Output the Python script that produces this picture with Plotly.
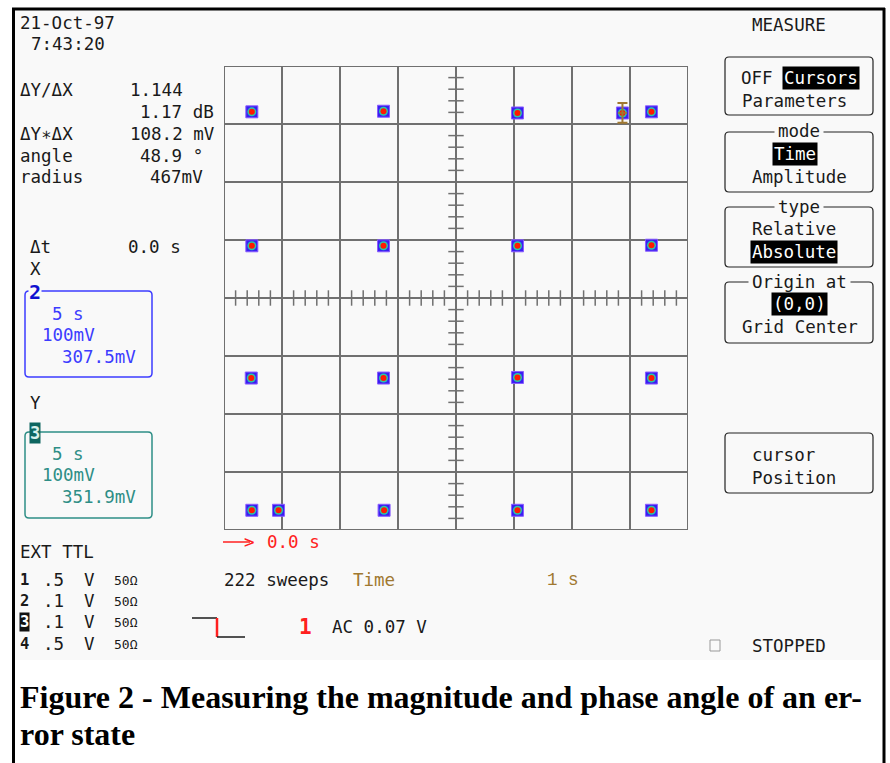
import plotly.graph_objects as go

W, H = 890, 763
MONO = "DejaVu Sans Mono"
SERIF = "Liberation Serif"
INK = "#1a1a1a"
GRID = "#707070"
SCREEN = "#f9f9f9"
BLUE = "#3c3cff"
TEAL = "#2e8e86"
BROWN = "#a07830"
RED = "#ff2020"

# ---------------- data ----------------
# dot positions: X = channel 2 (mV), Y = channel 3 (mV); 100 mV / division
dot_x_mV = [-352, -125, 106, 287, 337,
            -352, -125, 106, 337,
            -353, -125, 106, 337,
            -352, -306, -124, 106, 337]
dot_y_mV = [321, 322, 319, 319, 321,
            90, 90, 90, 91,
            -138, -138, -137, -138,
            -366, -366, -366, -366, -366]
cursor_x_mV = [287]
cursor_y_mV = [319]
cursor_half_height_mV = [17]

axis_range_mV = [-400, 400]
grid_step_mV = 100
minor_step_mV = 20

readout_labels = ["ΔY/ΔX", "", "ΔY∗ΔX", "angle", "radius"]
readout_values = ["1.144", "1.17 dB", "108.2 mV", "48.9 °", "467mV"]
ch2_lines = ["5 s", "100mV", "307.5mV"]
ch3_lines = ["5 s", "100mV", "351.9mV"]
channel_ids = ["1", "2", "3", "4"]
channel_volts = [".5", ".1", ".1", ".5"]
caption_lines = ["Figure 2 - Measuring the magnitude and phase angle of an er-",
                 "ror state"]


def px(x):
    return x / W


def py(y):
    return 1 - y / H


fig = go.Figure()

# center-axis minor ticks
minor = [k * minor_step_mV for k in range(-20, 21) if k % 5 != 0]
fig.add_trace(go.Scatter(x=minor, y=[0] * len(minor), mode="markers", hoverinfo="skip",
                         marker=dict(symbol="line-ns", size=11, line=dict(width=1.5, color=GRID))))
fig.add_trace(go.Scatter(x=[0] * len(minor), y=minor, mode="markers", hoverinfo="skip",
                         marker=dict(symbol="line-ew", size=11, line=dict(width=1.5, color=GRID))))

# persistence blobs
fig.add_trace(go.Scatter(x=dot_x_mV, y=dot_y_mV, mode="markers",
                         marker=dict(symbol="square", size=12, color="#3a1ef2",
                                     line=dict(width=1, color="#8a5cff"))))
fig.add_trace(go.Scatter(x=dot_x_mV, y=dot_y_mV, mode="markers",
                         marker=dict(symbol="circle", size=9, color="#28c8a8", line=dict(width=0))))
fig.add_trace(go.Scatter(x=dot_x_mV, y=dot_y_mV, mode="markers",
                         marker=dict(symbol="circle", size=6, color="#ff1a00", line=dict(width=0))))

# cursor
fig.add_trace(go.Scatter(x=cursor_x_mV, y=cursor_y_mV, mode="markers",
                         marker=dict(size=1, color="rgba(0,0,0,0)"),
                         error_y=dict(type="data", array=cursor_half_height_mV, color=BROWN,
                                      thickness=2, width=5),
                         error_x=dict(type="data", array=[8], arrayminus=[8], color=BROWN,
                                      thickness=1.5, width=0)))

shapes = []
# screen background
shapes.append(dict(type="rect", xref="paper", yref="paper", x0=px(15), x1=px(882),
                   y0=py(660), y1=py(10), fillcolor=SCREEN, line=dict(width=0), layer="below"))
# frame
for (x0, y0, x1, y1) in [(13.5, 8, 13.5, 763), (12, 9, 885, 9), (884, 8, 884, 763)]:
    shapes.append(dict(type="line", xref="paper", yref="paper", x0=px(x0), x1=px(x1),
                       y0=py(y0), y1=py(y1), line=dict(color="black", width=3)))
# grid border
shapes.append(dict(type="rect", xref="x", yref="y", x0=axis_range_mV[0], x1=axis_range_mV[1],
                   y0=axis_range_mV[0], y1=axis_range_mV[1], line=dict(color=GRID, width=2)))


def rrect(x0, y0, x1, y1, color, width=1.3, r=4):
    def P(x, y):
        return f"{px(x):.6f},{py(y):.6f}"
    path = (f"M {P(x0 + r, y0)} L {P(x1 - r, y0)} Q {P(x1, y0)} {P(x1, y0 + r)} "
            f"L {P(x1, y1 - r)} Q {P(x1, y1)} {P(x1 - r, y1)} L {P(x0 + r, y1)} "
            f"Q {P(x0, y1)} {P(x0, y1 - r)} L {P(x0, y0 + r)} Q {P(x0, y0)} {P(x0 + r, y0)} Z")
    shapes.append(dict(type="path", xref="paper", yref="paper", path=path,
                       line=dict(color=color, width=width)))


# channel boxes
rrect(25, 291, 152, 377, BLUE, 1.5)
rrect(25, 432, 152, 518, TEAL, 1.5)
# menu boxes
for (y0, y1) in [(57, 115), (132, 192), (207, 267), (282, 343), (433, 493)]:
    rrect(725, y0, 873, y1, "#222222", 1.2)

# trigger symbol
shapes.append(dict(type="line", xref="paper", yref="paper", x0=px(192), x1=px(217),
                   y0=py(618), y1=py(618), line=dict(color=INK, width=1.5)))
shapes.append(dict(type="line", xref="paper", yref="paper", x0=px(217), x1=px(217),
                   y0=py(618), y1=py(637), line=dict(color=RED, width=2.5)))
shapes.append(dict(type="line", xref="paper", yref="paper", x0=px(217), x1=px(245),
                   y0=py(637), y1=py(637), line=dict(color=INK, width=1.5)))
# delay arrow line
shapes.append(dict(type="line", xref="paper", yref="paper", x0=px(223), x1=px(250),
                   y0=py(542), y1=py(542), line=dict(color=RED, width=1.5)))
# small status square
shapes.append(dict(type="rect", xref="paper", yref="paper", x0=px(710), x1=px(720),
                   y0=py(651), y1=py(640), line=dict(color="#999999", width=1)))

anns = []


def T(x, y, s, color=INK, size=17.5, bold=False, family=MONO, xanchor="left", bg=None, pad=1):
    a = dict(x=px(x), y=py(y), xref="paper", yref="paper", text=(f"<b>{s}</b>" if bold else s),
             showarrow=False, xanchor=xanchor, yanchor="middle",
             font=dict(family=family, size=size, color=color), borderpad=pad)
    if bg:
        a["bgcolor"] = bg
    anns.append(a)


T(18, 23, "21-Oct-97")
T(29, 44, "7:43:20")
lab_y = [90, 112, 134, 156, 177]
val_x = [128, 138, 128, 138, 148]
for lab, val, yy in zip(readout_labels, readout_values, lab_y):
    pass
for lab, val, yy, vx in zip(readout_labels, readout_values, lab_y, val_x):
    if lab:
        T(18, yy, lab)
    T(vx, yy, val)
T(28, 247, "Δt")
T(126, 247, "0.0 s")
T(28, 269, "X")
T(28, 403, "Y")

for s, (x, y) in zip(ch2_lines, [(50, 314), (40, 335), (60, 357)]):
    T(x, y, s, color=BLUE)
for s, (x, y) in zip(ch3_lines, [(50, 454), (40, 475), (60, 497)]):
    T(x, y, s, color=TEAL)
T(28, 292, "2", color="#1010d0", size=20, bold=True, bg=SCREEN, pad=0)
T(29, 433, "3", color="#d8f0ec", size=17, bold=True, bg="#0e6660", pad=0)

# delay
T(242, 542, ">", color=RED)
T(265, 542, "0.0 s", color=RED)

# channel list
T(18, 552, "EXT TTL")
for cid, v, yy in zip(channel_ids, channel_volts, [580, 601, 622, 644]):
    if cid == "3":
        T(19, yy, cid, color="white", size=15.5, bold=True, bg="#111111", pad=0)
    else:
        T(18, yy, cid, size=15.5, bold=True)
    T(41, yy, v)
    T(82, yy, "V")
    T(112, yy, "50Ω", size=13)

T(222, 580, "222 sweeps")
T(351, 580, "Time", color=BROWN)
T(545, 580, "1 s", color=BROWN, family="Liberation Mono")
T(297, 627, "1", color=RED, size=21, bold=True)
T(330, 627, "AC 0.07 V")
T(750, 646, "STOPPED")

# menu
T(789, 25, "MEASURE", xanchor="center")
T(739, 78, "OFF")
T(782, 78, "Cursors", color="white", bg="#000000")
T(740, 101, "Parameters")
T(799, 131, "mode", xanchor="center", bg=SCREEN, pad=3)
T(795, 154, "Time", color="white", bg="#000000", xanchor="center")
T(750, 177, "Amplitude")
T(799, 207, "type", xanchor="center", bg=SCREEN, pad=3)
T(750, 229, "Relative")
T(750, 252, "Absolute", color="white", bg="#000000")
T(799, 282, "Origin at", xanchor="center", bg=SCREEN, pad=3)
T(799, 304, "(0,0)", color="white", bg="#000000", xanchor="center")
T(740, 327, "Grid Center")
T(750, 455, "cursor")
T(750, 478, "Position")

# caption
T(18, 697, caption_lines[0], color="#000000", size=32, bold=True, family=SERIF)
T(18, 734, caption_lines[1], color="#000000", size=32, bold=True, family=SERIF)

axis_common = dict(range=axis_range_mV, showgrid=True, gridcolor=GRID, gridwidth=2,
                   dtick=grid_step_mV, tick0=0, showticklabels=False, zeroline=False,
                   ticks="", showline=False, fixedrange=True)

fig.update_layout(
    width=W, height=H, margin=dict(l=0, r=0, t=0, b=0),
    paper_bgcolor="white", plot_bgcolor=SCREEN, showlegend=False,
    xaxis=dict(domain=[px(224), px(688)], **axis_common),
    yaxis=dict(domain=[py(530), py(66)], **axis_common),
    shapes=shapes, annotations=anns,
)

fig.write_html("out.html")
